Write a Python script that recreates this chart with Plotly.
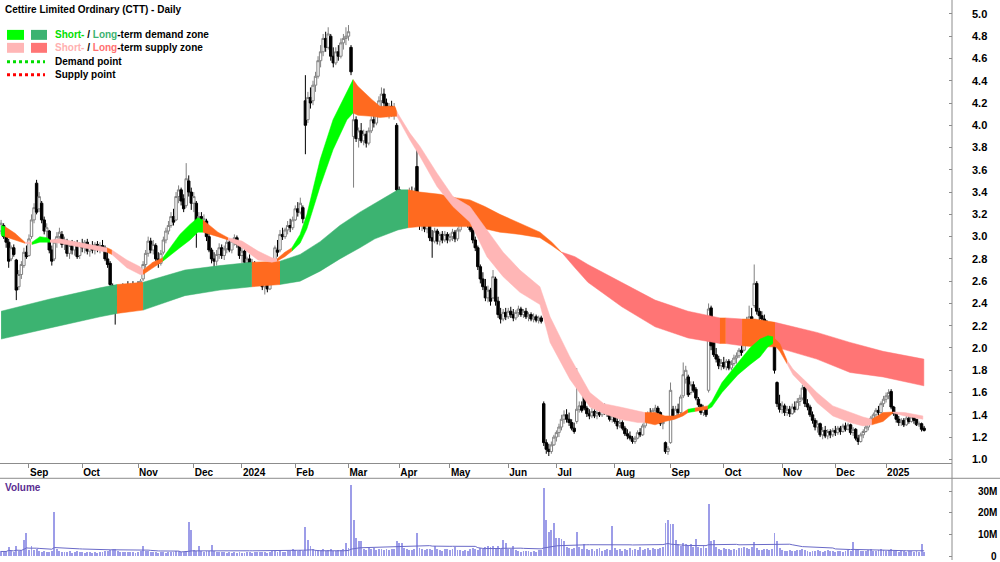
import pandas as pd
import plotly.graph_objects as go

# ---------------- data ----------------
start_date = "2023-08-17"
asx_holidays = ["2023-12-25", "2023-12-26", "2024-01-01", "2024-01-26", "2024-03-29",
                "2024-04-01", "2024-04-25", "2024-06-10", "2024-12-25", "2024-12-26",
                "2025-01-01"]

opens = [
    3.05, 3.10, 3.00, 2.95, 2.80, 2.90, 2.79, 2.55, 2.66, 2.74,
    2.86, 2.83, 3.00, 3.15, 3.48, 3.25, 3.30, 3.15, 3.05, 3.05,
    2.88, 2.80, 2.95, 3.00, 3.02, 2.93, 2.96, 2.85, 2.92, 2.88,
    2.94, 2.83, 2.93, 2.90, 2.95, 2.87, 2.91, 2.88, 2.93, 2.89,
    2.92, 2.90, 2.80, 2.76, 2.56, 2.45, 2.38, 2.47, 2.52, 2.46,
    2.53, 2.50, 2.55, 2.49, 2.56, 2.52, 2.62, 2.75, 2.85, 2.96,
    2.88, 2.92, 2.80, 2.76, 2.86, 2.97, 3.05, 3.10, 3.18, 3.15,
    3.36, 3.42, 3.34, 3.28, 3.50, 3.40, 3.30, 3.30, 3.10, 3.18,
    3.12, 3.14, 3.00, 2.88, 2.80, 2.78, 2.84, 2.90, 2.83, 2.89,
    2.95, 2.88, 2.96, 2.99, 2.93, 2.83, 2.87, 2.77, 2.80, 2.72,
    2.76, 2.65, 2.69, 2.62, 2.55, 2.60, 2.53, 2.68, 2.77, 2.88,
    2.88, 3.02, 3.00, 3.06, 3.10, 3.08, 3.15, 3.25, 3.22, 3.26,
    4.22, 4.05, 4.25, 4.22, 4.36, 4.44, 4.58, 4.66, 4.78, 4.70,
    4.80, 4.62, 4.56, 4.66, 4.62, 4.74, 4.78, 4.80, 4.70, 3.90,
    4.05, 3.88, 3.95, 3.86, 3.92, 3.84, 3.95, 4.05, 4.02, 4.10,
    4.22, 4.28, 4.20, 4.12, 4.17, 4.12, 4.00, 3.42, 3.26, 3.34,
    3.22, 3.32, 3.40, 3.34, 3.63, 3.15, 3.10, 3.17, 3.07, 3.12,
    2.99, 2.96, 3.05, 2.96, 3.02, 2.97, 3.02, 2.97, 3.00, 3.04,
    2.98, 3.06, 3.14, 3.18, 3.20, 3.10, 3.06, 2.97, 2.90, 2.73,
    2.62, 2.55, 2.45, 2.52, 2.45, 2.62, 2.42, 2.30, 2.26, 2.32,
    2.28, 2.33, 2.30, 2.27, 2.32, 2.35, 2.30, 2.33, 2.28, 2.30,
    2.26, 2.28, 2.25, 2.27, 1.50, 1.15, 1.09, 1.07, 1.13, 1.20,
    1.24, 1.29, 1.36, 1.40, 1.36, 1.33, 1.28, 1.34, 1.45, 1.48,
    1.63, 1.46, 1.41, 1.39, 1.43, 1.39, 1.42, 1.40, 1.44, 1.42,
    1.41, 1.36, 1.39, 1.34, 1.30, 1.33, 1.28, 1.23, 1.21, 1.19,
    1.16, 1.19, 1.24, 1.22, 1.30, 1.35, 1.41, 1.39, 1.44, 1.46,
    1.42, 1.32, 1.15, 1.07, 1.15, 1.45, 1.39, 1.45, 1.42, 1.57,
    1.72, 1.74, 1.60, 1.67, 1.63, 1.54, 1.49, 1.42, 1.46, 1.62,
    2.36, 2.12, 1.94, 1.90, 1.84, 1.87, 1.83, 1.88, 1.82, 1.86,
    1.91, 1.93, 1.98, 1.98, 2.12, 2.22, 2.28, 2.38, 2.58, 2.33,
    2.29, 2.26, 2.23, 2.12, 2.17, 2.18, 1.69, 1.50, 1.45, 1.48,
    1.42, 1.45, 1.41, 1.47, 1.45, 1.52, 1.55, 1.65, 1.50, 1.47,
    1.40, 1.35, 1.29, 1.32, 1.22, 1.26, 1.21, 1.25, 1.22, 1.26,
    1.24, 1.28, 1.25, 1.30, 1.27, 1.31, 1.24, 1.27, 1.19, 1.16,
    1.22, 1.25, 1.29, 1.32, 1.37, 1.40, 1.44, 1.42, 1.50, 1.54,
    1.57, 1.61, 1.47, 1.41, 1.36, 1.33, 1.35, 1.31, 1.37, 1.34,
    1.38, 1.36, 1.31, 1.32, 1.28,
]
highs = [
    3.15, 3.12, 3.06, 2.98, 2.92, 2.93, 2.80, 2.70, 2.78, 2.90,
    2.92, 3.02, 3.20, 3.30, 3.51, 3.40, 3.32, 3.18, 3.12, 3.06,
    2.92, 2.98, 3.04, 3.08, 3.05, 3.00, 2.98, 2.95, 2.97, 2.96,
    2.97, 2.95, 2.98, 2.97, 2.98, 2.93, 2.96, 2.95, 2.96, 2.95,
    2.97, 2.92, 2.86, 2.78, 2.58, 2.52, 2.50, 2.56, 2.58, 2.55,
    2.60, 2.58, 2.60, 2.58, 2.60, 2.62, 2.78, 2.88, 3.00, 2.99,
    2.97, 2.94, 2.86, 2.88, 3.00, 3.08, 3.14, 3.22, 3.25, 3.40,
    3.46, 3.44, 3.38, 3.66, 3.55, 3.44, 3.40, 3.32, 3.22, 3.22,
    3.20, 3.16, 3.04, 2.90, 2.86, 2.88, 2.94, 2.93, 2.92, 2.98,
    2.98, 2.98, 3.02, 3.01, 2.95, 2.90, 2.89, 2.82, 2.84, 2.80,
    2.78, 2.72, 2.72, 2.66, 2.63, 2.64, 2.70, 2.80, 2.92, 2.97,
    3.06, 3.08, 3.08, 3.14, 3.16, 3.18, 3.28, 3.31, 3.35, 3.28,
    4.45, 4.30, 4.34, 4.40, 4.48, 4.62, 4.72, 4.82, 4.84, 4.88,
    4.82, 4.70, 4.70, 4.72, 4.78, 4.82, 4.88, 4.90, 4.72, 4.12,
    4.08, 3.98, 4.02, 3.96, 3.95, 3.98, 4.08, 4.12, 4.14, 4.26,
    4.34, 4.33, 4.24, 4.20, 4.22, 4.20, 4.02, 3.45, 3.38, 3.38,
    3.36, 3.44, 3.45, 3.44, 3.80, 3.22, 3.20, 3.20, 3.16, 3.14,
    3.06, 3.08, 3.07, 3.04, 3.05, 3.05, 3.04, 3.03, 3.07, 3.06,
    3.08, 3.16, 3.22, 3.26, 3.22, 3.14, 3.08, 3.00, 2.92, 2.75,
    2.68, 2.62, 2.56, 2.54, 2.70, 2.64, 2.46, 2.36, 2.35, 2.36,
    2.36, 2.37, 2.35, 2.34, 2.38, 2.37, 2.35, 2.36, 2.32, 2.32,
    2.31, 2.30, 2.29, 2.29, 1.52, 1.18, 1.14, 1.16, 1.22, 1.26,
    1.32, 1.40, 1.44, 1.45, 1.42, 1.36, 1.33, 1.82, 1.52, 1.52,
    1.67, 1.48, 1.45, 1.46, 1.45, 1.45, 1.46, 1.46, 1.50, 1.46,
    1.43, 1.42, 1.41, 1.37, 1.36, 1.35, 1.30, 1.27, 1.25, 1.21,
    1.21, 1.26, 1.28, 1.32, 1.37, 1.43, 1.46, 1.46, 1.49, 1.48,
    1.43, 1.37, 1.16, 1.12, 1.69, 1.48, 1.48, 1.50, 1.58, 1.87,
    1.84, 1.76, 1.70, 1.70, 1.65, 1.56, 1.50, 1.49, 1.47, 2.40,
    2.38, 2.15, 2.00, 1.93, 1.90, 1.92, 1.90, 1.90, 1.89, 1.94,
    1.96, 2.00, 2.03, 2.14, 2.28, 2.38, 2.36, 2.75, 2.60, 2.36,
    2.33, 2.30, 2.25, 2.20, 2.19, 2.20, 1.70, 1.58, 1.52, 1.50,
    1.48, 1.48, 1.50, 1.52, 1.55, 1.58, 1.67, 1.66, 1.54, 1.49,
    1.43, 1.37, 1.35, 1.33, 1.29, 1.30, 1.27, 1.27, 1.28, 1.30,
    1.30, 1.30, 1.32, 1.33, 1.33, 1.32, 1.29, 1.28, 1.22, 1.24,
    1.27, 1.31, 1.34, 1.39, 1.42, 1.46, 1.48, 1.52, 1.57, 1.60,
    1.63, 1.63, 1.48, 1.42, 1.39, 1.37, 1.37, 1.39, 1.39, 1.40,
    1.39, 1.36, 1.34, 1.33, 1.30,
]
lows = [
    3.02, 2.98, 2.90, 2.72, 2.78, 2.82, 2.43, 2.52, 2.62, 2.72,
    2.80, 2.82, 2.98, 3.12, 3.20, 3.22, 3.12, 3.02, 2.98, 2.85,
    2.74, 2.78, 2.90, 2.95, 2.90, 2.88, 2.82, 2.80, 2.84, 2.83,
    2.80, 2.80, 2.86, 2.85, 2.84, 2.82, 2.85, 2.84, 2.86, 2.85,
    2.87, 2.78, 2.72, 2.55, 2.42, 2.21, 2.35, 2.42, 2.44, 2.42,
    2.48, 2.45, 2.47, 2.46, 2.50, 2.50, 2.60, 2.72, 2.82, 2.85,
    2.84, 2.78, 2.72, 2.74, 2.84, 2.94, 3.02, 3.08, 3.10, 3.14,
    3.30, 3.28, 3.22, 3.26, 3.36, 3.24, 3.22, 2.90, 3.06, 3.08,
    3.06, 2.96, 2.86, 2.76, 2.72, 2.74, 2.80, 2.80, 2.79, 2.85,
    2.86, 2.85, 2.92, 2.90, 2.80, 2.76, 2.74, 2.70, 2.70, 2.68,
    2.62, 2.60, 2.58, 2.52, 2.48, 2.50, 2.52, 2.66, 2.76, 2.82,
    2.86, 2.97, 2.98, 3.02, 3.04, 3.06, 3.14, 3.18, 3.20, 3.12,
    3.74, 4.02, 4.15, 4.18, 4.30, 4.42, 4.52, 4.62, 4.66, 4.68,
    4.58, 4.52, 4.54, 4.58, 4.60, 4.68, 4.72, 4.76, 4.45, 3.44,
    3.85, 3.80, 3.84, 3.82, 3.80, 3.82, 3.93, 3.98, 4.00, 4.08,
    4.15, 4.16, 4.08, 4.06, 4.08, 4.05, 3.40, 3.22, 3.20, 3.18,
    3.20, 3.30, 3.30, 3.32, 3.12, 3.06, 3.05, 3.04, 3.03, 2.96,
    2.81, 2.94, 2.93, 2.92, 2.94, 2.95, 2.94, 2.95, 2.96, 2.95,
    2.96, 3.04, 3.10, 3.14, 3.08, 3.04, 2.94, 2.87, 2.70, 2.58,
    2.52, 2.42, 2.41, 2.38, 2.44, 2.38, 2.27, 2.22, 2.24, 2.25,
    2.26, 2.27, 2.24, 2.25, 2.28, 2.28, 2.27, 2.26, 2.24, 2.24,
    2.23, 2.23, 2.22, 2.22, 1.12, 1.05, 1.03, 1.05, 1.12, 1.16,
    1.20, 1.26, 1.32, 1.33, 1.30, 1.26, 1.23, 1.32, 1.42, 1.42,
    1.44, 1.38, 1.36, 1.37, 1.37, 1.36, 1.38, 1.38, 1.40, 1.38,
    1.34, 1.33, 1.32, 1.27, 1.28, 1.26, 1.21, 1.18, 1.17, 1.14,
    1.14, 1.18, 1.20, 1.21, 1.28, 1.34, 1.37, 1.38, 1.40, 1.40,
    1.30, 1.27, 1.05, 1.04, 1.14, 1.36, 1.38, 1.39, 1.40, 1.55,
    1.68, 1.56, 1.58, 1.60, 1.53, 1.47, 1.40, 1.39, 1.38, 1.60,
    1.98, 1.92, 1.87, 1.81, 1.80, 1.81, 1.80, 1.80, 1.80, 1.84,
    1.86, 1.91, 1.93, 1.97, 2.10, 2.18, 2.18, 2.36, 2.30, 2.25,
    2.23, 2.20, 2.10, 2.06, 2.07, 1.77, 1.47, 1.42, 1.41, 1.39,
    1.39, 1.38, 1.40, 1.42, 1.44, 1.48, 1.53, 1.47, 1.44, 1.38,
    1.32, 1.26, 1.24, 1.20, 1.18, 1.19, 1.18, 1.19, 1.20, 1.21,
    1.22, 1.22, 1.24, 1.25, 1.26, 1.22, 1.21, 1.17, 1.13, 1.15,
    1.19, 1.24, 1.26, 1.31, 1.34, 1.38, 1.39, 1.41, 1.47, 1.51,
    1.54, 1.45, 1.39, 1.33, 1.30, 1.30, 1.29, 1.30, 1.32, 1.33,
    1.32, 1.30, 1.29, 1.25, 1.25,
]
closes = [
    3.12, 3.00, 2.95, 2.78, 2.90, 2.84, 2.52, 2.66, 2.75, 2.86,
    2.82, 2.98, 3.15, 3.26, 3.22, 3.36, 3.15, 3.05, 3.08, 2.88,
    2.78, 2.95, 3.00, 3.04, 2.93, 2.97, 2.85, 2.92, 2.88, 2.94,
    2.82, 2.93, 2.90, 2.95, 2.87, 2.91, 2.88, 2.93, 2.89, 2.92,
    2.90, 2.80, 2.75, 2.57, 2.46, 2.38, 2.47, 2.52, 2.46, 2.53,
    2.50, 2.55, 2.49, 2.56, 2.52, 2.60, 2.75, 2.85, 2.96, 2.88,
    2.93, 2.80, 2.76, 2.85, 2.97, 3.05, 3.10, 3.18, 3.13, 3.36,
    3.42, 3.32, 3.25, 3.52, 3.40, 3.30, 3.36, 3.08, 3.18, 3.12,
    3.16, 3.00, 2.88, 2.80, 2.78, 2.84, 2.90, 2.83, 2.89, 2.95,
    2.88, 2.96, 2.99, 2.93, 2.83, 2.87, 2.77, 2.80, 2.72, 2.76,
    2.65, 2.69, 2.62, 2.55, 2.60, 2.53, 2.68, 2.77, 2.90, 2.86,
    3.02, 3.00, 3.06, 3.10, 3.08, 3.15, 3.25, 3.22, 3.30, 3.16,
    4.00, 4.25, 4.20, 4.36, 4.44, 4.58, 4.66, 4.78, 4.70, 4.82,
    4.62, 4.56, 4.66, 4.62, 4.74, 4.78, 4.80, 4.84, 4.48, 4.05,
    3.88, 3.95, 3.86, 3.92, 3.84, 3.95, 4.05, 4.02, 4.10, 4.22,
    4.28, 4.20, 4.12, 4.17, 4.12, 4.15, 3.42, 3.26, 3.34, 3.22,
    3.32, 3.40, 3.34, 3.40, 3.15, 3.10, 3.17, 3.07, 3.12, 2.99,
    2.96, 3.05, 2.96, 3.02, 2.97, 3.02, 2.97, 3.00, 3.04, 2.98,
    3.06, 3.14, 3.18, 3.22, 3.10, 3.06, 2.97, 2.90, 2.73, 2.62,
    2.55, 2.45, 2.52, 2.42, 2.64, 2.42, 2.30, 2.26, 2.32, 2.28,
    2.33, 2.30, 2.27, 2.32, 2.35, 2.30, 2.33, 2.28, 2.30, 2.26,
    2.28, 2.25, 2.27, 2.24, 1.15, 1.09, 1.07, 1.13, 1.20, 1.24,
    1.29, 1.36, 1.40, 1.36, 1.33, 1.28, 1.25, 1.45, 1.48, 1.44,
    1.46, 1.41, 1.39, 1.43, 1.39, 1.42, 1.40, 1.44, 1.42, 1.41,
    1.36, 1.39, 1.34, 1.30, 1.33, 1.28, 1.23, 1.21, 1.19, 1.16,
    1.19, 1.24, 1.22, 1.30, 1.35, 1.41, 1.39, 1.44, 1.46, 1.42,
    1.32, 1.34, 1.07, 1.10, 1.62, 1.39, 1.45, 1.42, 1.56, 1.76,
    1.80, 1.58, 1.67, 1.62, 1.55, 1.49, 1.42, 1.46, 1.40, 2.35,
    2.02, 1.94, 1.90, 1.84, 1.87, 1.83, 1.88, 1.82, 1.86, 1.91,
    1.93, 1.98, 1.96, 2.12, 2.25, 2.28, 2.22, 2.58, 2.33, 2.29,
    2.26, 2.24, 2.12, 2.17, 2.10, 1.80, 1.50, 1.45, 1.48, 1.42,
    1.45, 1.41, 1.47, 1.45, 1.52, 1.55, 1.64, 1.50, 1.47, 1.40,
    1.35, 1.29, 1.32, 1.22, 1.26, 1.21, 1.25, 1.22, 1.26, 1.24,
    1.28, 1.25, 1.30, 1.27, 1.31, 1.24, 1.27, 1.19, 1.16, 1.22,
    1.25, 1.29, 1.32, 1.37, 1.40, 1.44, 1.42, 1.50, 1.54, 1.57,
    1.60, 1.47, 1.41, 1.36, 1.33, 1.35, 1.31, 1.37, 1.34, 1.38,
    1.35, 1.31, 1.32, 1.27, 1.26,
]
volume_m = [
    2.1, 1.8, 2.4, 4.2, 2.0, 1.7, 4.6, 2.2, 2.6, 7.4,
    10.3, 2.5, 4.6, 2.8, 3.0, 2.2, 1.9, 2.0, 1.6, 1.8,
    2.4, 20.3, 3.2, 2.0, 1.7, 1.5, 1.9, 2.2, 1.4, 1.6,
    2.0, 1.8, 1.5, 1.3, 1.7, 1.9, 1.4, 1.6, 1.2, 1.5,
    1.8, 2.1, 2.4, 2.6, 2.9, 3.3, 2.2, 1.9, 1.7, 1.8,
    1.5, 1.6, 1.9, 1.4, 1.7, 2.0, 4.6, 2.4, 2.2, 1.8,
    1.6, 1.5, 1.3, 1.7, 1.9, 1.4, 1.6, 1.5, 1.8, 2.2,
    2.0, 1.7, 1.9, 2.3, 15.8, 11.8, 2.5, 2.2, 4.6, 2.0,
    1.8, 2.1, 2.4, 5.0, 2.2, 1.8, 1.6, 1.5, 1.7, 1.4,
    1.6, 1.3, 1.5, 1.2, 1.6, 1.4, 1.3, 1.5, 1.7, 1.4,
    1.6, 1.5, 1.8, 1.9, 1.6, 1.4, 1.7, 2.0, 2.2, 1.8,
    2.1, 1.9, 1.7, 2.0, 2.3, 3.0, 2.5, 2.2, 2.6, 2.4,
    13.5, 7.4, 4.6, 3.2, 2.8, 2.5, 2.7, 3.0, 2.4, 2.6,
    2.9, 2.3, 2.1, 2.5, 2.8, 3.1, 6.0, 3.5, 32.8, 16.5,
    8.0, 7.0, 7.0, 3.2, 2.8, 3.4, 2.9, 3.8, 2.6, 3.0,
    3.3, 2.7, 3.1, 2.5, 2.9, 3.2, 7.0, 6.0, 5.8, 3.4,
    3.0, 2.6, 2.8, 3.1, 10.3, 3.6, 3.0, 2.7, 2.9, 3.2,
    2.8, 4.6, 3.0, 2.6, 2.4, 2.9, 3.1, 2.7, 3.3, 4.0,
    2.8, 2.5, 2.2, 2.6, 2.4, 2.9, 3.4, 3.1, 2.7, 3.6,
    3.2, 4.1, 4.6, 3.9, 4.6, 3.8, 4.4, 3.0, 7.4, 5.8,
    3.1, 3.3, 4.6, 2.6, 2.2, 1.9, 2.4, 2.0, 2.3, 1.8,
    2.1, 1.7, 2.5, 2.8, 31.2, 16.6, 11.2, 12.0, 15.0, 8.0,
    8.0, 7.8, 7.0, 4.2, 3.6, 3.0, 3.4, 10.8, 4.0, 3.3,
    5.4, 3.0, 2.6, 3.2, 2.4, 2.9, 3.5, 2.2, 2.8, 3.1,
    2.5, 13.8, 3.6, 2.7, 3.0, 2.4, 3.3, 2.8, 3.6, 2.5,
    3.1, 2.7, 3.9, 2.6, 3.0, 3.4, 2.8, 3.7, 2.9, 3.2,
    3.5, 4.2, 15.0, 16.6, 14.6, 14.6, 7.4, 5.2, 4.6, 6.0,
    5.6, 4.8, 5.4, 4.2, 7.7, 3.9, 3.4, 4.4, 3.6, 23.8,
    7.0, 7.4, 4.0, 3.2, 2.8, 3.5, 2.9, 3.3, 2.6, 3.0,
    2.7, 3.4, 3.8, 4.1, 3.6, 3.2, 4.0, 6.5, 3.4, 2.8,
    2.5, 3.1, 3.0, 2.6, 2.9, 10.3, 7.0, 3.8, 2.7, 2.4,
    2.2, 2.6, 2.0, 2.3, 2.8, 2.5, 3.1, 2.7, 2.2, 1.9,
    2.4, 2.1, 2.6, 2.3, 1.9, 2.2, 2.5, 2.0, 2.3, 1.8,
    2.1, 2.4, 1.9, 2.2, 2.6, 2.3, 6.5, 2.8, 2.5, 2.0,
    2.3, 2.1, 2.6, 2.9, 2.4, 2.2, 2.7, 3.0, 2.5, 2.3,
    2.6, 3.0, 2.4, 2.1, 1.9, 2.2, 2.0, 1.8, 2.3, 2.1,
    1.9, 2.2, 1.7, 5.2, 1.5,
]
volume_ma_window = 50

# zone bands: knots (bar index, upper edge, lower edge)
lt_knot_x = [0, 19.3, 39.0, 45.7, 56.0, 72.5, 86.3, 98.9, 110.0, 117.9,
             125.8, 133.6, 141.5, 147.4, 156.5, 160.5, 165.2, 173.1, 179.0, 184.9,
             190.8, 196.7, 204.6, 212.5, 217.2, 221.2, 226.3, 231.4, 238.1, 244.8,
             257.9, 270.9, 283.5, 285.8, 292.2, 297.3, 305.2, 321.7, 334.8, 347.8,
             363.9]
lt_knot_top = [2.33, 2.44, 2.54, 2.57, 2.59, 2.70, 2.74, 2.77, 2.78, 2.84,
               2.955, 3.10, 3.22, 3.30, 3.42, 3.42, 3.40, 3.38, 3.35, 3.33,
               3.27, 3.20, 3.12, 3.04, 2.95, 2.86, 2.82, 2.75, 2.67, 2.59,
               2.43, 2.33, 2.27, 2.27, 2.26, 2.26, 2.23, 2.14, 2.05, 1.97,
               1.90]
lt_knot_bot = [2.08, 2.18, 2.28, 2.31, 2.34, 2.47, 2.52, 2.55, 2.57, 2.60,
               2.69, 2.80, 2.90, 2.98, 3.06, 3.08, 3.09, 3.09, 3.09, 3.09,
               3.07, 3.04, 3.02, 2.99, 2.92, 2.855, 2.72, 2.59, 2.48, 2.37,
               2.19, 2.09, 2.04, 2.04, 2.02, 2.01, 2.01, 1.90, 1.78, 1.74,
               1.66]
lt_segments = [(0, 3, "lt_demand"), (3, 4, "overlap"), (4, 7, "lt_demand"), (7, 8, "overlap"),
               (8, 15, "lt_demand"), (15, 25, "overlap"), (25, 32, "lt_supply"),
               (32, 33, "overlap"), (33, 34, "lt_supply"), (34, 36, "overlap"),
               (36, 40, "lt_supply")]

st_knot_x = [0, 1.5, 5.5, 9.4, 12.2, 15.3, 18.1, 19.3, 23.2, 32.3,
             39.0, 41.8, 43.7, 49.6, 54.8, 56.0, 59.9, 63.8, 70.5, 74.5,
             77.6, 79.6, 85.5, 89.5, 95.0, 101.3, 106.8, 108.8, 111.9, 114.7,
             117.9, 120.6, 125.8, 130.9, 136.4, 138.8, 140.7, 146.3, 149.4, 155.3,
             156.1, 161.2, 165.2, 171.9, 178.2, 184.9, 191.6, 198.0, 204.6, 212.5,
             216.5, 224.3, 232.2, 237.7, 244.1, 251.1, 253.9, 257.9, 261.8, 265.7,
             268.9, 270.9, 273.6, 278.7, 280.3, 284.3, 290.6, 295.3, 299.3, 302.4,
             304.4, 307.1, 309.9, 312.3, 317.8, 321.7, 328.0, 334.8, 339.9, 343.4,
             347.8, 351.7, 356.4, 363.5]
st_knot_top = [3.10, 3.09, 3.03, 2.95, 2.95, 3.00, 2.99, 2.97, 2.98, 2.94,
               2.91, 2.90, 2.88, 2.79, 2.73, 2.70, 2.77, 2.81, 3.02, 3.11,
               3.17, 3.15, 3.04, 2.99, 2.96, 2.87, 2.81, 2.80, 2.86, 2.90,
               3.02, 3.20, 3.69, 4.05, 4.30, 4.41, 4.35, 4.23, 4.17, 4.17,
               4.12, 3.93, 3.81, 3.57, 3.36, 3.27, 3.06, 2.86, 2.70, 2.55,
               2.28, 1.92, 1.60, 1.50, 1.47, 1.43, 1.42, 1.42, 1.39, 1.39,
               1.42, 1.45, 1.46, 1.48, 1.52, 1.69, 1.87, 2.00, 2.08, 2.11,
               2.10, 2.04, 1.89, 1.81, 1.69, 1.60, 1.48, 1.42, 1.38, 1.36,
               1.42, 1.425, 1.42, 1.39]
st_knot_bot = [3.01, 3.00, 2.97, 2.94, 2.93, 2.95, 2.95, 2.95, 2.94, 2.90,
               2.87, 2.86, 2.84, 2.72, 2.66, 2.66, 2.72, 2.78, 2.90, 2.97,
               3.04, 3.04, 3.00, 2.97, 2.90, 2.79, 2.77, 2.78, 2.82, 2.87,
               2.94, 3.07, 3.45, 3.78, 4.05, 4.11, 4.09, 4.08, 4.07, 4.08,
               4.08, 3.87, 3.72, 3.45, 3.27, 3.13, 2.82, 2.64, 2.50, 2.39,
               2.05, 1.72, 1.47, 1.41, 1.36, 1.33, 1.33, 1.31, 1.34, 1.36,
               1.39, 1.42, 1.43, 1.45, 1.47, 1.60, 1.76, 1.85, 1.92, 2.01,
               2.04, 1.97, 1.86, 1.76, 1.63, 1.51, 1.39, 1.33, 1.30, 1.31,
               1.34, 1.415, 1.39, 1.36]
st_segments = [(0, 1, "st_demand"), (1, 3, "overlap"), (3, 4, "st_supply"), (4, 7, "st_demand"),
               (7, 11, "st_supply"), (11, 12, "overlap"), (12, 15, "st_supply"), (15, 17, "overlap"),
               (17, 21, "st_demand"), (21, 23, "overlap"), (23, 27, "st_supply"), (27, 29, "overlap"),
               (29, 35, "st_demand"), (35, 40, "overlap"), (40, 56, "st_supply"), (56, 61, "overlap"),
               (61, 62, "st_demand"), (62, 63, "overlap"), (63, 70, "st_demand"), (70, 72, "overlap"),
               (72, 79, "st_supply"), (79, 81, "overlap"), (81, 83, "st_supply")]

price_ticks = [1.0, 1.2, 1.4, 1.6, 1.8, 2.0, 2.2, 2.4, 2.6, 2.8, 3.0,
               3.2, 3.4, 3.6, 3.8, 4.0, 4.2, 4.4, 4.6, 4.8, 5.0]
volume_ticks = [0, 10, 20, 30]
volume_tick_labels = ["0", "10M", "20M", "30M"]
title_text = "Cettire Limited Ordinary (CTT) - Daily"

# ---------------- style ----------------
W, H = 1000, 562
PLOT_W = 952
FONT = "Liberation Sans, Arial, sans-serif"
AXIS_COL = "#8c8c8c"
zone_fill = {"st_demand": "#00ff00", "lt_demand": "#3cb371", "st_supply": "#ffb6b6",
             "lt_supply": "#ff7575", "overlap": "#ff6a1f"}


def px_x(p):
    return p / PLOT_W


def px_y(p):
    return 1 - p / H


n = min(len(opens), len(highs), len(lows), len(closes), len(volume_m))
hol = pd.to_datetime(asx_holidays)
dates = pd.bdate_range(start=start_date, periods=n + 30, freq="C", holidays=hol)[:n]
idx = list(range(n))

tick_idx, tick_txt = [], []
for k in range(1, n):
    if dates[k].month != dates[k - 1].month:
        tick_idx.append(k)
        tick_txt.append(str(dates[k].year) if dates[k].month == 1 else dates[k].strftime("%b"))

fig = go.Figure()


def add_band(kx, kt, kb, segs):
    for a, b, kind in segs:
        xs = list(kx[a:b + 1]) + list(kx[a:b + 1])[::-1]
        ys = list(kt[a:b + 1]) + list(kb[a:b + 1])[::-1]
        fig.add_trace(go.Scatter(x=xs, y=ys, mode="lines", fill="toself",
                                 fillcolor=zone_fill[kind],
                                 line=dict(width=0.5, color=zone_fill[kind]),
                                 hoverinfo="skip", showlegend=False,
                                 xaxis="x", yaxis="y"))


add_band(lt_knot_x, lt_knot_top, lt_knot_bot, lt_segments)
add_band(st_knot_x, st_knot_top, st_knot_bot, st_segments)

fig.add_trace(go.Candlestick(
    x=idx, open=opens[:n], high=highs[:n], low=lows[:n], close=closes[:n],
    increasing=dict(line=dict(color="#808080", width=1), fillcolor="#ffffff"),
    decreasing=dict(line=dict(color="#000000", width=1), fillcolor="#000000"),
    whiskerwidth=0, showlegend=False, xaxis="x", yaxis="y"))

vol_ma = pd.Series(volume_m[:n]).rolling(volume_ma_window, min_periods=1).mean()
fig.add_trace(go.Bar(x=idx, y=volume_m[:n], width=0.36,
                     marker=dict(color="#9d9de8", line=dict(width=0)),
                     showlegend=False, xaxis="x2", yaxis="y2"))
fig.add_trace(go.Scatter(x=idx, y=vol_ma, mode="lines",
                         line=dict(color="#6a6ac8", width=1),
                         showlegend=False, xaxis="x2", yaxis="y2"))

xr = [-0.43, 375.0]
price_dom = [px_y(465), 1]
vol_dom = [0, px_y(480)]

fig.update_layout(
    width=W, height=H,
    margin=dict(l=0, r=W - PLOT_W, t=0, b=0),
    paper_bgcolor="white", plot_bgcolor="white",
    showlegend=False, bargap=0, boxgap=0.05, boxgroupgap=0,
    font=dict(family=FONT, size=10, color="black"),
    xaxis=dict(domain=[0, 1], range=xr, anchor="y", showgrid=False, zeroline=False,
               tickmode="array", tickvals=tick_idx, ticktext=tick_txt,
               ticks="outside", ticklen=4, tickcolor=AXIS_COL,
               ticklabelposition="outside right",
               tickfont=dict(family=FONT, size=10, color="black", weight="bold"),
               showline=True, linecolor=AXIS_COL, linewidth=1,
               rangeslider=dict(visible=False), fixedrange=True),
    yaxis=dict(domain=price_dom, range=[0.964, 5.125], side="right", anchor="x",
               showgrid=False, zeroline=False, tickmode="array", tickvals=price_ticks,
               ticktext=[f"{v:.1f}" for v in price_ticks],
               ticks="inside", ticklen=3, tickcolor=AXIS_COL, ticklabelstandoff=19,
               tickfont=dict(family=FONT, size=11, color="black", weight="bold"),
               showline=False),
    xaxis2=dict(domain=[0, 1], range=xr, anchor="y2", matches="x", showgrid=False,
                zeroline=False, showticklabels=False, ticks="", showline=False),
    yaxis2=dict(domain=vol_dom, range=[-1.85, 36.0], side="right", anchor="x2",
                showgrid=False, zeroline=False, tickmode="array", tickvals=volume_ticks,
                ticks="inside", ticklen=3, tickcolor=AXIS_COL, showticklabels=False,
                showline=False),
)

shapes = [
    dict(type="line", xref="paper", yref="paper", x0=1, x1=1, y0=0, y1=1,
         line=dict(color=AXIS_COL, width=1)),
    dict(type="line", xref="paper", yref="paper", x0=0, x1=W / PLOT_W,
         y0=px_y(480), y1=px_y(480), line=dict(color=AXIS_COL, width=1)),
]
# legend swatches
for (x0, x1, y0, y1, col) in [(7, 24, 30, 40, zone_fill["st_demand"]),
                              (31, 47, 30, 40, zone_fill["lt_demand"]),
                              (7, 24, 43, 53, zone_fill["st_supply"]),
                              (31, 47, 43, 53, zone_fill["lt_supply"])]:
    shapes.append(dict(type="rect", xref="paper", yref="paper",
                       x0=px_x(x0), x1=px_x(x1), y0=px_y(y1), y1=px_y(y0),
                       fillcolor=col, line=dict(width=0)))
for (yy, col) in [(62, "#00dd00"), (75, "#ff0000")]:
    shapes.append(dict(type="line", xref="paper", yref="paper",
                       x0=px_x(7), x1=px_x(45), y0=px_y(yy), y1=px_y(yy),
                       line=dict(color=col, width=3, dash="dot")))
fig.update_layout(shapes=shapes)

ann = []


def text_ann(x, y, txt, color="black", size=10, anchor="left"):
    ann.append(dict(xref="paper", yref="paper", x=px_x(x), y=px_y(y), text=txt,
                    showarrow=False, xanchor=anchor, yanchor="middle",
                    font=dict(family=FONT, size=size, color=color)))


text_ann(3, 10, "<b>" + title_text + "</b>")
text_ann(53, 35, "<b><span style='color:#00e000'>Short-</span> / "
                 "<span style='color:#3cb371'>Long</span>-term demand zone</b>")
text_ann(53, 48, "<b><span style='color:#ffb0b0'>Short-</span> / "
                 "<span style='color:#ff7070'>Long</span>-term supply zone</b>")
text_ann(53, 62, "<b>Demand point</b>")
text_ann(53, 75, "<b>Supply point</b>")
text_ann(3, 489, "<b>Volume</b>", color="#5a2d91")
for v, lab in zip(volume_ticks, volume_tick_labels):
    ann.append(dict(xref="paper", yref="y2", x=999 / PLOT_W, y=v, text="<b>" + lab + "</b>",
                    showarrow=False, xanchor="right", yanchor="middle",
                    font=dict(family=FONT, size=10, color="black")))
fig.update_layout(annotations=ann)

fig.write_html("out.html")
